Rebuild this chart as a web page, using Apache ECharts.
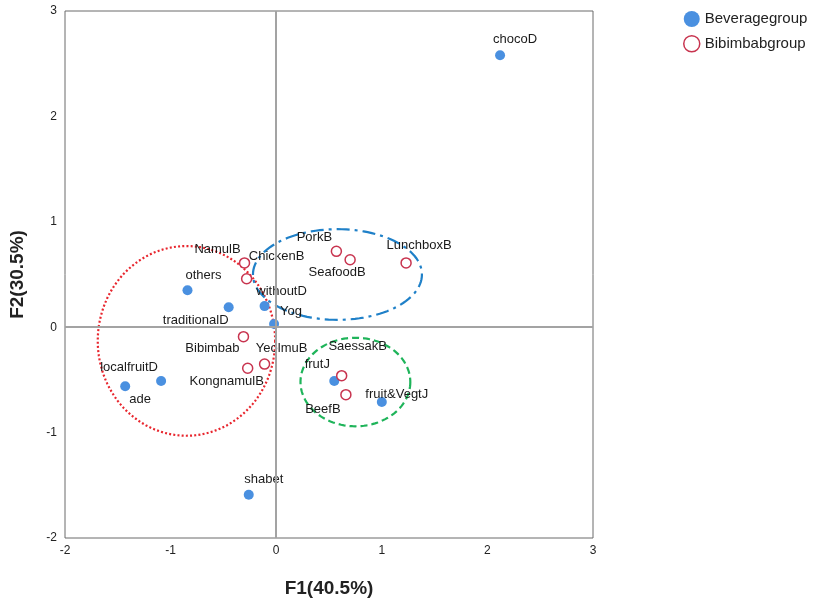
<!DOCTYPE html>
<html><head><meta charset="utf-8">
<script src="https://cdn.jsdelivr.net/npm/echarts@6/dist/echarts.min.js"></script>
<style>html,body{margin:0;padding:0;background:#fff}#c{width:818px;height:607px}</style>
</head><body><div id="c"></div>
<script>
// ---- data ----
const bevNames = ['chocoD','others','traditionalD','withoutD','Yog','localfruitD','ade','frutJ','fruit&VegtJ','shabet'];
const bevF1 = [2.12,-0.84,-0.45,-0.11,-0.02,-1.09,-1.43,0.55,1.00,-0.26];
const bevF2 = [2.58,0.35,0.19,0.20,0.03,-0.51,-0.56,-0.51,-0.71,-1.59];

const bibNames = ['NamulB','ChickenB','Bibimbab','YeolmuB','KongnamulB','PorkB','SeafoodB','LunchboxB','SaessakB','BeefB'];
const bibF1 = [-0.30,-0.28,-0.31,-0.11,-0.27,0.57,0.70,1.23,0.62,0.66];
const bibF2 = [0.61,0.46,-0.09,-0.35,-0.39,0.72,0.64,0.61,-0.46,-0.64];

// group ellipses: centre (F1,F2) and radii in axis units
const ellCx = [-0.85, 0.58, 0.75];
const ellCy = [-0.13, 0.50, -0.52];
const ellRx = [0.84, 0.80, 0.52];
const ellRy = [0.90, 0.43, 0.42];

const xTicks = [-2,-1,0,1,2,3];
const yTicks = [-2,-1,0,1,2,3];

// ---- layout / style (not data) ----
const labelOffset = {
  chocoD:[15,-16], others:[16,-15], traditionalD:[-33,13], withoutD:[17,-15], Yog:[17,-13],
  localfruitD:[-32,-14], ade:[15,13], frutJ:[-17,-17], 'fruit&VegtJ':[15,-8], shabet:[15,-15],
  NamulB:[-27,-13], ChickenB:[30,-22], Bibimbab:[-31,12], YeolmuB:[17,-16], KongnamulB:[-21,13],
  PorkB:[-22,-14], SeafoodB:[-13,13], LunchboxB:[13,-17], SaessakB:[16,-29], BeefB:[-23,15]
};
const ellStyles = [
  {stroke:'#e8262e', lineDash:[2,2.2], lineWidth:2.2},
  {stroke:'#1f80c8', lineDash:[13,5,3,5], lineWidth:2.2},
  {stroke:'#1fb45a', lineDash:[7,4], lineWidth:2.2}
];
const BLUE = '#4a90e0', RED = '#c8344f';
const FONT = 'Arial, "Liberation Sans", sans-serif';

function pts(names, xs, ys){
  return names.map((n,i)=>({
    name:n, value:[xs[i], ys[i]],
    label:{show:true, formatter:n, position:'inside', offset:labelOffset[n],
      color:'#1a1a1a', fontSize:13, fontFamily:FONT, align:'center', verticalAlign:'middle'}
  }));
}

const chart = echarts.init(document.getElementById('c'));
chart.setOption({
  backgroundColor:'#fff',
  animation:false,
  grid:{left:65, right:225, top:11, bottom:69, show:true, borderColor:'#6b6b6b', borderWidth:1, backgroundColor:'transparent'},
  legend:{
    orient:'vertical', left:683, top:11, padding:0, itemWidth:16, itemHeight:16, itemGap:8,
    textStyle:{fontSize:15, color:'#222', fontFamily:FONT},
    data:[
      {name:'Beveragegroup', icon:'circle', itemStyle:{color:BLUE}},
      {name:'Bibimbabgroup', icon:'circle', itemStyle:{color:'#fff', borderColor:RED, borderWidth:1.5}}
    ]
  },
  xAxis:{
    type:'value', min:xTicks[0], max:xTicks[xTicks.length-1], interval:1,
    name:'F1(40.5%)', nameLocation:'middle', nameGap:41,
    nameTextStyle:{fontSize:19, fontWeight:'bold', color:'#222', fontFamily:FONT},
    axisLine:{show:false}, axisTick:{show:false}, splitLine:{show:false},
    axisLabel:{fontSize:12, color:'#222', fontFamily:FONT, margin:7}
  },
  yAxis:{
    type:'value', min:yTicks[0], max:yTicks[yTicks.length-1], interval:1,
    name:'F2(30.5%)', nameLocation:'middle', nameGap:38, nameRotate:90,
    nameTextStyle:{fontSize:19, fontWeight:'bold', color:'#222', fontFamily:FONT},
    axisLine:{show:false}, axisTick:{show:false}, splitLine:{show:false},
    axisLabel:{fontSize:12, color:'#222', fontFamily:FONT, margin:8}
  },
  series:[
    {
      type:'custom', name:'ellipses', silent:true, z:1,
      data: ellCx.map((c,i)=>[c, ellCy[i], ellRx[i], ellRy[i], i]),
      renderItem:function(params, api){
        const c = api.coord([api.value(0), api.value(1)]);
        const s = api.size([api.value(2), api.value(3)]);
        const idx = api.value(4);
        const p = [];
        const N = 120;
        for(let k=0;k<N;k++){
          const t = 2*Math.PI*k/N;
          p.push([c[0]+s[0]*Math.cos(t), c[1]+s[1]*Math.sin(t)]);
        }
        const st = ellStyles[idx];
        return {type:'polygon', shape:{points:p}, style:{fill:null, stroke:st.stroke, lineWidth:st.lineWidth, lineDash:st.lineDash}};
      }
    },
    {
      type:'scatter', name:'Beveragegroup', symbol:'circle', symbolSize:10, z:3,
      itemStyle:{color:BLUE, opacity:1},
      data: pts(bevNames, bevF1, bevF2),
      markLine:{
        silent:true, symbol:['none','none'], label:{show:false},
        lineStyle:{color:'#a3a3a3', width:2, type:'solid'},
        data:[{xAxis:0},{yAxis:0}]
      }
    },
    {
      type:'scatter', name:'Bibimbabgroup', symbol:'circle', symbolSize:10, z:3,
      itemStyle:{color:'#fff', borderColor:RED, borderWidth:1.5, opacity:1},
      data: pts(bibNames, bibF1, bibF2)
    }
  ]
});
</script></body></html>
